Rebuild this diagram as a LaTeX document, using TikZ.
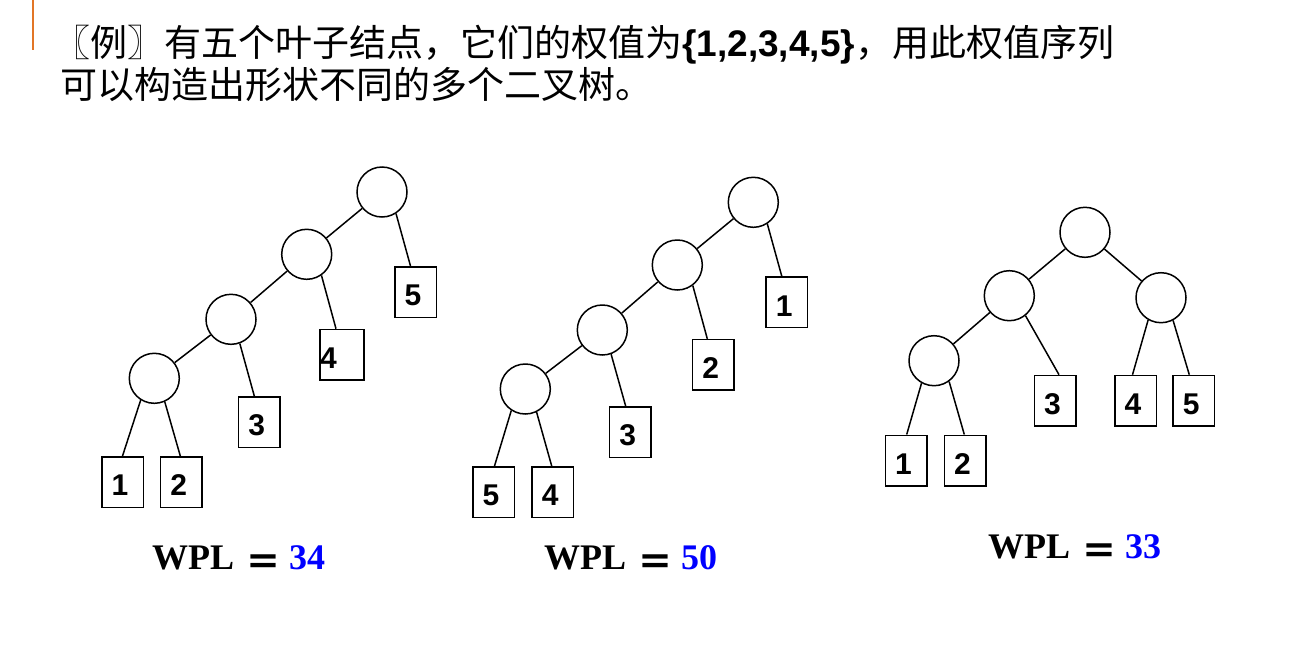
\documentclass[tikz,border=0pt]{standalone}
\usepackage{fontspec}
\setmainfont{Liberation Serif}
\newfontfamily\cjk{Noto Sans CJK SC}
\newfontfamily\arialf{Liberation Sans}
\definecolor{accentorange}{RGB}{226,118,38}
\definecolor{wplblue}{RGB}{0,0,255}
\newcommand{\wpleq}{\hspace{11pt}\raisebox{-6pt}{\cjk\bfseries ＝}\hspace{8pt}}
\begin{document}
\begin{tikzpicture}[x=1pt,y=-1pt,
  inner/.style={circle, draw, line width=1.5pt, minimum size=50pt, inner sep=0pt},
  leaf/.style={rectangle, draw, line width=1.5pt, minimum width=41.5pt, minimum height=50.5pt,
    inner sep=0pt, font=\arialf\bfseries\fontsize{30}{30}\selectfont, text height=27.5pt,
    execute at end node={\hspace{5pt}}},
  leafshift/.style={leaf, execute at end node={\hspace{22pt}}},
  edge/.style={line width=1.5pt},
  titletext/.style={anchor=base west, inner sep=0pt, font=\cjk\fontsize{37}{37}\selectfont},
  wpl/.style={anchor=base west, inner sep=0pt, font=\bfseries\fontsize{36}{36}\selectfont},
  accent/.style={draw=accentorange, line width=2.5pt}
]
\useasboundingbox (0,0) rectangle (1307,659);

% accent bar
\draw[accent] (33,0) -- (33,50);

% title
\node[titletext] (title1) at (53,56) {〖例〗有五个叶子结点，它们的权值为{\arialf\bfseries\{1,2,3,4,5\}}，用此权值序列};
\node[titletext] (title2) at (60,98) {可以构造出形状不同的多个二叉树。};

% ---------- tree 1 ----------
\node[inner] (ar) at (382,192) {};
\node[inner] (aa) at (306.7,254.3) {};
\node[inner] (ab) at (231,319.3) {};
\node[inner] (ac) at (154.3,378.3) {};
\node[leaf] (a5) at (415.5,292) {5};
\node[leafshift] (a4) at (342,354.7) {4};
\node[leaf] (a3) at (259.3,422) {3};
\node[leaf] (a1) at (122.5,482) {1};
\node[leaf] (a2) at (181.3,482) {2};
\draw[edge] (ar) -- (aa);
\draw[edge] (aa) -- (ab);
\draw[edge] (ab) -- (ac);
\draw[edge] (ar.-57) -- ([xshift=-5pt]a5.north);
\draw[edge] (aa.-55) -- ([xshift=-6pt]a4.north);
\draw[edge] (ab.-70) -- ([xshift=-5pt]a3.north);
\draw[edge] (ac.-122) -- (a1.north);
\draw[edge] (ac.-66) -- ([xshift=-1pt]a2.north);
\node[wpl] (wpl1) at (152,569) {WPL\wpleq\textcolor{wplblue}{34}};

% ---------- tree 2 ----------
\node[inner] (br) at (753.3,202.3) {};
\node[inner] (ba) at (677.3,265) {};
\node[inner] (bb) at (602.3,330) {};
\node[inner] (bc) at (525.3,389) {};
\node[leaf] (b1) at (786.8,302.3) {1};
\node[leaf] (b2) at (713.3,364.8) {2};
\node[leaf] (b3) at (630.2,432.2) {3};
\node[leaf] (b5) at (493.5,492) {5};
\node[leaf] (b4) at (552.7,492) {4};
\draw[edge] (br) -- (ba);
\draw[edge] (ba) -- (bb);
\draw[edge] (bb) -- (bc);
\draw[edge] (br.-57) -- ([xshift=-5pt]b1.north);
\draw[edge] (ba.-53) -- ([xshift=-6pt]b2.north);
\draw[edge] (bb.-70) -- ([xshift=-4.5pt]b3.north);
\draw[edge] (bc.-123) -- ([xshift=1pt]b5.north);
\draw[edge] (bc.-64) -- ([xshift=-1pt]b4.north);
\node[wpl] (wpl2) at (544,569) {WPL\wpleq\textcolor{wplblue}{50}};

% ---------- tree 3 ----------
\node[inner] (cr) at (1085,232.3) {};
\node[inner] (cl) at (1009.3,295.7) {};
\node[inner] (cq) at (1161,297.7) {};
\node[inner] (cll) at (934,360.7) {};
\node[leaf] (c3) at (1055,400.7) {3};
\node[leaf] (c4) at (1135.5,400.7) {4};
\node[leaf] (c5) at (1193.8,400.7) {5};
\node[leaf] (c1) at (906,460.5) {1};
\node[leaf] (c2) at (965,460.5) {2};
\draw[edge] (cr) -- (cl);
\draw[edge] (cr) -- (cq);
\draw[edge] (cl) -- (cll);
\draw[edge] (cl.-51) -- ([xshift=4pt]c3.north);
\draw[edge] (cll.-119) -- ([xshift=0.7pt]c1.north);
\draw[edge] (cll.-54) -- ([xshift=-0.7pt]c2.north);
\draw[edge] (cq.-120) -- ([xshift=-3pt]c4.north);
\draw[edge] (cq.-62) -- ([xshift=-4.5pt]c5.north);
\node[wpl] (wpl3) at (988,558) {WPL\wpleq\textcolor{wplblue}{33}};
\end{tikzpicture}
\end{document}
